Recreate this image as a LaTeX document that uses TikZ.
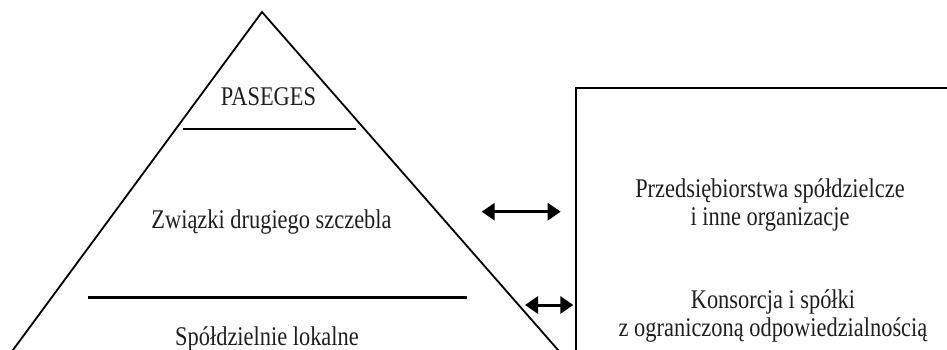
\documentclass[tikz,border=0pt]{standalone}
\usepackage{fontspec}
\setmainfont{Liberation Serif}[FakeStretch=0.83]
\usetikzlibrary{arrows.meta}

\begin{document}
\begin{tikzpicture}[x=1pt,y=-1pt,
  every node/.style={font=\fontsize{27}{28.5}\selectfont,align=center,inner sep=0pt,text=black!88},
  level/.style={line width=2.8pt},
  link/.style={line width=3pt,{Triangle[length=13pt,width=17pt]}-{Triangle[length=13pt,width=17pt]}}]
\clip (0,0) rectangle (947,350);
% pyramid
\draw[line width=1.8pt,line join=miter] (5.6,360) -- (262,12) -- (566.8,360);
\draw[level] (183,129) -- (356,129);
\draw[level] (88,297.7) -- (467,297.7);
\node[anchor=base] (paseges) at (268.5,106) {PASEGES};
\node[anchor=base] (zwiazki) at (271.5,228.3) {Związki drugiego szczebla};
\node[anchor=base] (lokalne) at (267,345) {Spółdzielnie lokalne};
% box on the right
\draw[line width=2.2pt] (960,88.3) -- (576,88.3) -- (576,360);
\node[anchor=base] (przeds) at (770,225.5) {Przedsiębiorstwa spółdzielcze\\ i inne organizacje};
\node[anchor=base] (konsorcja) at (773,336.7) {Konsorcja i spółki\\ z ograniczoną odpowiedzialnością};
% arrows
\coordinate (a1) at (481.7,211.7);
\coordinate (b1) at (560.7,211.7);
\coordinate (a2) at (525,305);
\coordinate (b2) at (573.3,305);
\draw[link] (a1) -- (b1);
\draw[link] (a2) -- (b2);
\end{tikzpicture}
\end{document}
